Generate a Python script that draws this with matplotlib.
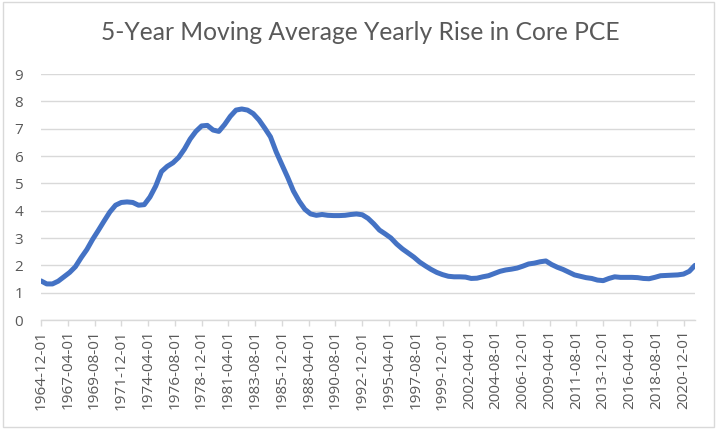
import matplotlib
matplotlib.use("Agg")
import matplotlib.pyplot as plt
import pandas as pd
from matplotlib.patches import Rectangle

title = "5-Year Moving Average Yearly Rise in Core PCE"

# Semi-annual readings (Dec 1964 onward, every 6 months), values in percent
values = [
    1.43, 1.32, 1.32, 1.42, 1.58, 1.74, 1.95, 2.28, 2.58, 2.95,
    3.28, 3.62, 3.95, 4.20, 4.30, 4.32, 4.30, 4.20, 4.22, 4.50,
    4.90, 5.43, 5.62, 5.75, 5.95, 6.25, 6.62, 6.90, 7.10, 7.12,
    6.95, 6.90, 7.15, 7.45, 7.68, 7.72, 7.68, 7.55, 7.32, 7.02,
    6.70, 6.15, 5.68, 5.22, 4.72, 4.35, 4.05, 3.88, 3.83, 3.86,
    3.83, 3.82, 3.82, 3.83, 3.86, 3.88, 3.85, 3.72, 3.52, 3.29,
    3.15, 3.00, 2.78, 2.60, 2.45, 2.30, 2.12, 1.98, 1.85, 1.74,
    1.66, 1.60, 1.58, 1.58, 1.57, 1.52, 1.53, 1.58, 1.62, 1.70,
    1.78, 1.83, 1.86, 1.90, 1.97, 2.05, 2.08, 2.13, 2.16, 2.03,
    1.93, 1.85, 1.75, 1.65, 1.60, 1.55, 1.52, 1.46, 1.44, 1.52,
    1.58, 1.56, 1.56, 1.56, 1.55, 1.52, 1.51, 1.56, 1.62, 1.63,
    1.64, 1.65, 1.68, 1.78, 2.00,
]
start_date = "1964-12-01"

xtick_labels = [
    "1964-12-01", "1967-04-01", "1969-08-01", "1971-12-01", "1974-04-01",
    "1976-08-01", "1978-12-01", "1981-04-01", "1983-08-01", "1985-12-01",
    "1988-04-01", "1990-08-01", "1992-12-01", "1995-04-01", "1997-08-01",
    "1999-12-01", "2002-04-01", "2004-08-01", "2006-12-01", "2009-04-01",
    "2011-08-01", "2013-12-01", "2016-04-01", "2018-08-01", "2020-12-01",
]
yticks = list(range(0, 10))

dates = pd.date_range(start_date, periods=len(values), freq="6MS")

fig = plt.figure(figsize=(7.2, 4.3), dpi=100)
fig.patch.set_facecolor("white")
fig.patches.append(Rectangle((0.004, 0.006), 0.988, 0.99, transform=fig.transFigure,
                             fill=False, edgecolor="#d9d9d9", linewidth=1.0))

ax = fig.add_axes([41 / 720, 1 - 320 / 430, (695 - 41) / 720, (320 - 74) / 430])

ax.plot(dates, values, color="#4472c4", linewidth=3.6,
        solid_capstyle="round", solid_joinstyle="round", zorder=3)

ax.set_ylim(0, 9)
ax.set_yticks(yticks)
ax.set_xlim(pd.Timestamp(start_date), dates[-1])
tick_dates = pd.to_datetime(xtick_labels)
ax.set_xticks(tick_dates)
ax.set_xticklabels(xtick_labels, rotation=90, fontsize=11, color="#595959",
                   family="Open Sans")
for lab in ax.get_yticklabels():
    lab.set_fontsize(11)
    lab.set_color("#595959")
    lab.set_family("Open Sans")

ax.grid(axis="y", color="#d9d9d9", linewidth=1.0, zorder=0)
ax.set_axisbelow(True)
for s in ["top", "right", "left"]:
    ax.spines[s].set_visible(False)
ax.spines["bottom"].set_color("#d9d9d9")
ax.spines["bottom"].set_linewidth(1.0)
ax.tick_params(axis="y", length=0, pad=13)
ax.tick_params(axis="x", length=4, color="#d9d9d9", width=1.0, pad=3)

fig.text(0.5, 1 - 33 / 430, title, ha="center", va="center",
         fontsize=17.7, color="#595959", family="Lato")

fig.savefig("out.png", dpi=100)
